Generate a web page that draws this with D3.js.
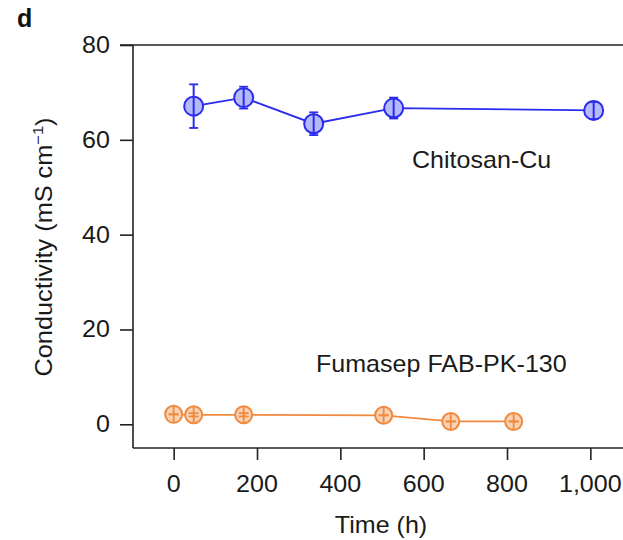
<!DOCTYPE html>
<html><head><meta charset="utf-8">
<script src="https://cdn.jsdelivr.net/npm/d3@7"></script>
<style>body{margin:0;background:#fff}svg{display:block}text{font-family:"Liberation Sans",Arial,sans-serif}</style>
</head><body>
<script>
const xTicks = [0, 200, 400, 600, 800, 1000];
const yTicks = [0, 20, 40, 60, 80];
const chitosanTime = [48, 168, 336, 528, 1008];
const chitosanValue = [67.1, 68.9, 63.4, 66.7, 66.2];
const chitosanErr = [4.6, 2.3, 2.4, 2.2, 1.8];
const fumaTime = [0, 48, 168, 504, 665, 816];
const fumaValue = [2.1, 2.0, 2.0, 1.9, 0.6, 0.6];
const fumaErr = [0.0, 0.35, 0.35, 0.0, 0.0, 0.0];

const W = 623, H = 540;
const SX = 1.09; // horizontal stretch of text
const svg = d3.select("body").append("svg").attr("width", W).attr("height", H);
const x = d3.scaleLinear().domain([-100, 1100]).range([132, 632]);
const y = d3.scaleLinear().domain([-5, 80]).range([448, 45]);
const INK = "#1a1a1a";

function label(px, py, str, anchor, size) {
  return svg.append("text").attr("transform", `translate(${px},${py}) scale(${SX},1)`)
    .attr("text-anchor", anchor || "start").style("font-size", (size || 23) + "px")
    .attr("fill", INK).text(str);
}

// axes (ticks from d3 axes, labels drawn stretched)
const fmt = d3.format(",");
const xAxis = d3.axisBottom(x).tickValues(xTicks).tickFormat("").tickSize(12);
const yAxis = d3.axisLeft(y).tickValues(yTicks).tickFormat("").tickSize(13);
const gx = svg.append("g").attr("transform", `translate(0,448)`).call(xAxis);
const gy = svg.append("g").attr("transform", `translate(133,0)`).call(yAxis);
[gx, gy].forEach(g => {
  g.select(".domain").remove();
  g.selectAll("line").attr("stroke", "#222").attr("stroke-width", 1.6);
});
xTicks.forEach(t => label(x(t), 492, fmt(t), "middle"));
yTicks.forEach(t => label(110, y(t) + 8, fmt(t), "end"));

// frame lines (left, bottom, top)
svg.append("line").attr("x1", 133).attr("x2", 133).attr("y1", y(80)).attr("y2", 448).attr("stroke", "#222").attr("stroke-width", 1.6);
svg.append("line").attr("x1", 133).attr("x2", W).attr("y1", 448).attr("y2", 448).attr("stroke", "#222").attr("stroke-width", 1.6);
svg.append("line").attr("x1", 120).attr("x2", W).attr("y1", y(80)).attr("y2", y(80)).attr("stroke", "#222").attr("stroke-width", 1.6);

function series(times, vals, errs, stroke, fill, r, cap, glyph) {
  const data = times.map((t, i) => ({t, v: vals[i], e: errs[i]}));
  const g = svg.append("g");
  g.append("path").datum(data)
    .attr("d", d3.line().x(d => x(d.t)).y(d => y(d.v)))
    .attr("fill", "none").attr("stroke", stroke).attr("stroke-width", 1.8);
  const p = g.selectAll(".pt").data(data).join("g");
  p.append("circle").attr("cx", d => x(d.t)).attr("cy", d => y(d.v)).attr("r", r)
    .attr("fill", fill).attr("stroke", stroke).attr("stroke-width", 2);
  if (glyph) {
    p.append("line").attr("x1", d => x(d.t)).attr("x2", d => x(d.t))
      .attr("y1", d => y(d.v) - r).attr("y2", d => y(d.v) + r)
      .attr("stroke", stroke).attr("stroke-width", 1.8);
  }
  p.append("line").attr("x1", d => x(d.t)).attr("x2", d => x(d.t))
    .attr("y1", d => y(d.v - d.e)).attr("y2", d => y(d.v + d.e))
    .attr("stroke", stroke).attr("stroke-width", 2);
  [-1, 1].forEach(s => {
    p.append("line").attr("x1", d => x(d.t) - cap).attr("x2", d => x(d.t) + cap)
      .attr("y1", d => y(d.v + s * d.e)).attr("y2", d => y(d.v + s * d.e))
      .attr("stroke", stroke).attr("stroke-width", 1.8);
  });
}
series(chitosanTime, chitosanValue, chitosanErr, "#2b2bf0", "#b4baf8", 9.5, 4.5, false);
series(fumaTime, fumaValue, fumaErr, "#ef8a3e", "#f9d2b3", 8.5, 5, true);

// labels
label(412, 168, "Chitosan-Cu");
label(316, 372, "Fumasep FAB-PK-130");
label(381, 533, "Time (h)", "middle");
const yl = svg.append("text").attr("transform", "translate(52,247) rotate(-90) scale(1.1,1)").attr("text-anchor", "middle")
  .style("font-size", "23px").attr("fill", INK);
yl.append("tspan").text("Conductivity (mS cm");
yl.append("tspan").text("\u22121").attr("dy", -9).style("font-size", "15px");
yl.append("tspan").text(")").attr("dy", 9);
svg.append("text").attr("x", 17).attr("y", 27).text("d").style("font-size", "25px").style("font-weight", "bold").attr("fill", "#111");
</script>
</body></html>
